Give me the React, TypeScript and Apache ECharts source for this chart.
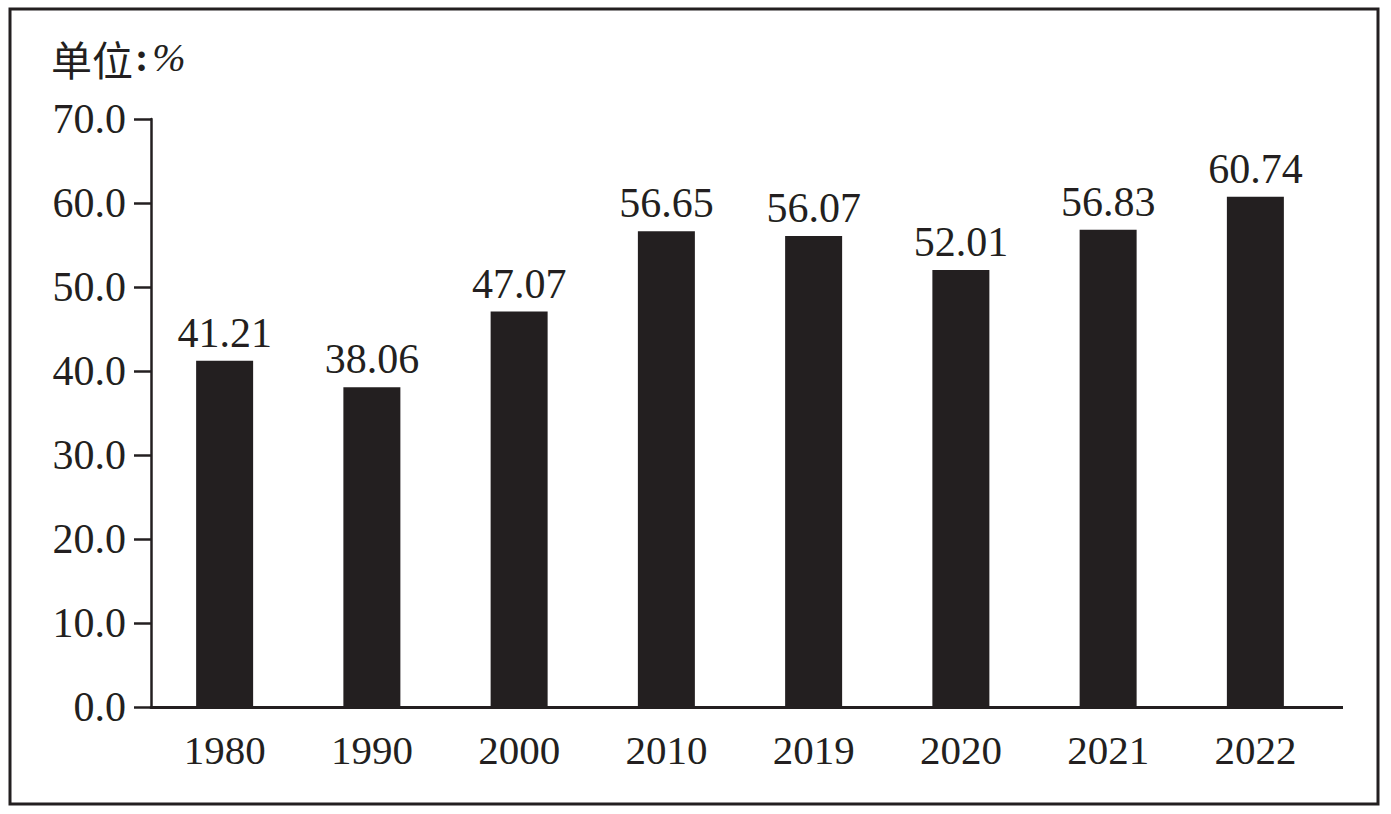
import React, { useEffect, useRef } from "react";
import * as echarts from "echarts";

const categories = ["1980", "1990", "2000", "2010", "2019", "2020", "2021", "2022"];
const values = [41.21, 38.06, 47.07, 56.65, 56.07, 52.01, 56.83, 60.74];
const yMin = 0;
const yMax = 70;
const yInterval = 10;
const unitLabel = "单位";

const INK = "#231f20";
const SERIF = "'Liberation Serif', 'DejaVu Serif', serif";

export default function App() {
  const ref = useRef<HTMLDivElement>(null);
  useEffect(() => {
    document.body.style.margin = "0";
    const chart = echarts.init(ref.current!, null, { renderer: "svg" });
    const gridLeft = 151;
    const gridRightEdge = 1329;
    const gridTop = 119;
    const gridBottomEdge = 707;
    chart.setOption({
      animation: false,
      backgroundColor: "#ffffff",
      title: {
        text: "{cn|" + unitLabel + "}{en|:}{pct|%}",
        left: 46,
        top: 32,
        textStyle: {
          fontWeight: "normal",
          rich: {
            cn: { fontFamily: "'Noto Sans CJK SC'", fontSize: 41, color: INK, fontWeight: "normal" },
            en: { fontFamily: SERIF, fontSize: 40, color: INK, fontWeight: "bold", padding: [0, 4, 0, 2] },
            pct: { fontFamily: SERIF, fontSize: 40, fontStyle: "italic", color: INK, fontWeight: "normal" },
          },
        },
      },
      grid: {
        left: gridLeft,
        top: gridTop,
        width: gridRightEdge - gridLeft,
        height: gridBottomEdge - gridTop,
        containLabel: false,
      },
      xAxis: {
        type: "category",
        data: categories,
        axisLine: { show: true, lineStyle: { color: INK, width: 3 } },
        axisTick: { show: false },
        axisLabel: { color: INK, fontFamily: SERIF, fontSize: 41, margin: 22 },
        splitLine: { show: false },
      },
      yAxis: {
        type: "value",
        min: yMin,
        max: yMax,
        interval: yInterval,
        axisLine: { show: true, lineStyle: { color: INK, width: 2.5 } },
        axisTick: { show: true, inside: false, length: 17, lineStyle: { color: INK, width: 2.5 } },
        axisLabel: {
          color: INK,
          fontFamily: SERIF,
          fontSize: 42,
          margin: 25,
          formatter: (v: number) => v.toFixed(1),
        },
        splitLine: { show: false },
      },
      series: [
        {
          type: "bar",
          data: values,
          barWidth: 57,
          itemStyle: { color: INK },
          label: {
            show: true,
            position: "top",
            distance: 7,
            color: INK,
            fontFamily: SERIF,
            fontSize: 42,
            formatter: (p: any) => p.value.toFixed(2),
          },
        },
      ],
      graphic: [
        {
          type: "rect",
          shape: { x: 10, y: 9, width: 1368, height: 795 },
          style: { fill: "none", stroke: INK, lineWidth: 3 },
        },
        {
          type: "line",
          shape: { x1: gridRightEdge - 6, y1: gridBottomEdge + 0.5, x2: 1343, y2: gridBottomEdge + 0.5 },
          style: { stroke: INK, lineWidth: 3 },
        },
      ],
    });
    return () => chart.dispose();
  }, []);
  return <div ref={ref} style={{ width: 1391, height: 814 }} />;
}
